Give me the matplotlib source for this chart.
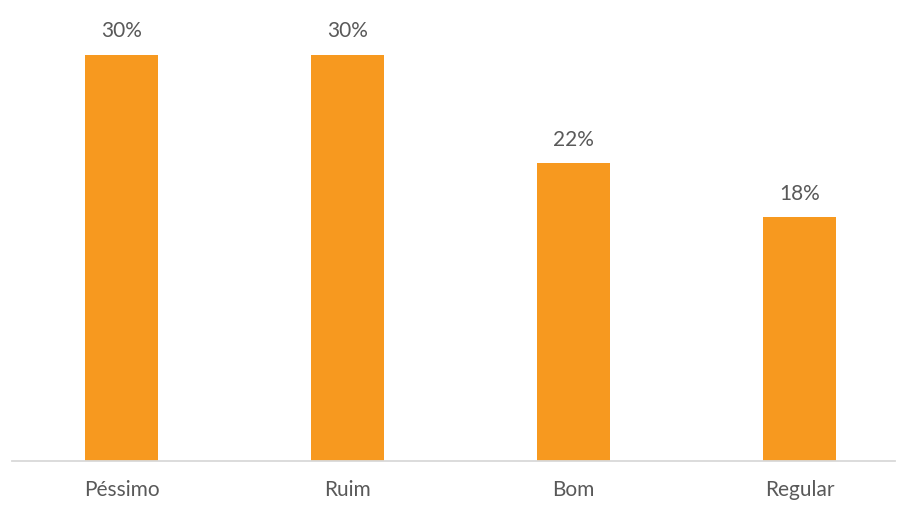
import matplotlib
matplotlib.use("Agg")
import matplotlib.pyplot as plt

categories = ["Péssimo", "Ruim", "Bom", "Regular"]
values = [30, 30, 22, 18]
labels = ["30%", "30%", "22%", "18%"]

plt.rcParams['font.family'] = ['Lato', 'DejaVu Sans']

fig = plt.figure(figsize=(8.99, 5.05), dpi=100)
ax = fig.add_axes([12/899, 44/505, (895-12)/899, 406/505])
x = list(range(len(categories)))
ax.bar(x, values, width=0.323, color="#F7991F", zorder=2)
ax.set_xlim(-0.485, 3.422)
ax.set_ylim(0, 30)
for xi, v, lab in zip(x, values, labels):
    ax.annotate(lab, (xi, v), xytext=(0, 17), textcoords="offset points",
                ha="center", va="center", fontsize=15, color="#595959",
                annotation_clip=False)
ax.set_xticks(x)
ax.set_xticklabels(categories, fontsize=15, color="#595959")
ax.tick_params(axis="x", length=0, pad=14)
ax.set_yticks([])
for s in ["top", "right", "left"]:
    ax.spines[s].set_visible(False)
ax.spines["bottom"].set_color("#D9D9D9")
ax.spines["bottom"].set_linewidth(1.3)
fig.savefig("out.png", dpi=100)
